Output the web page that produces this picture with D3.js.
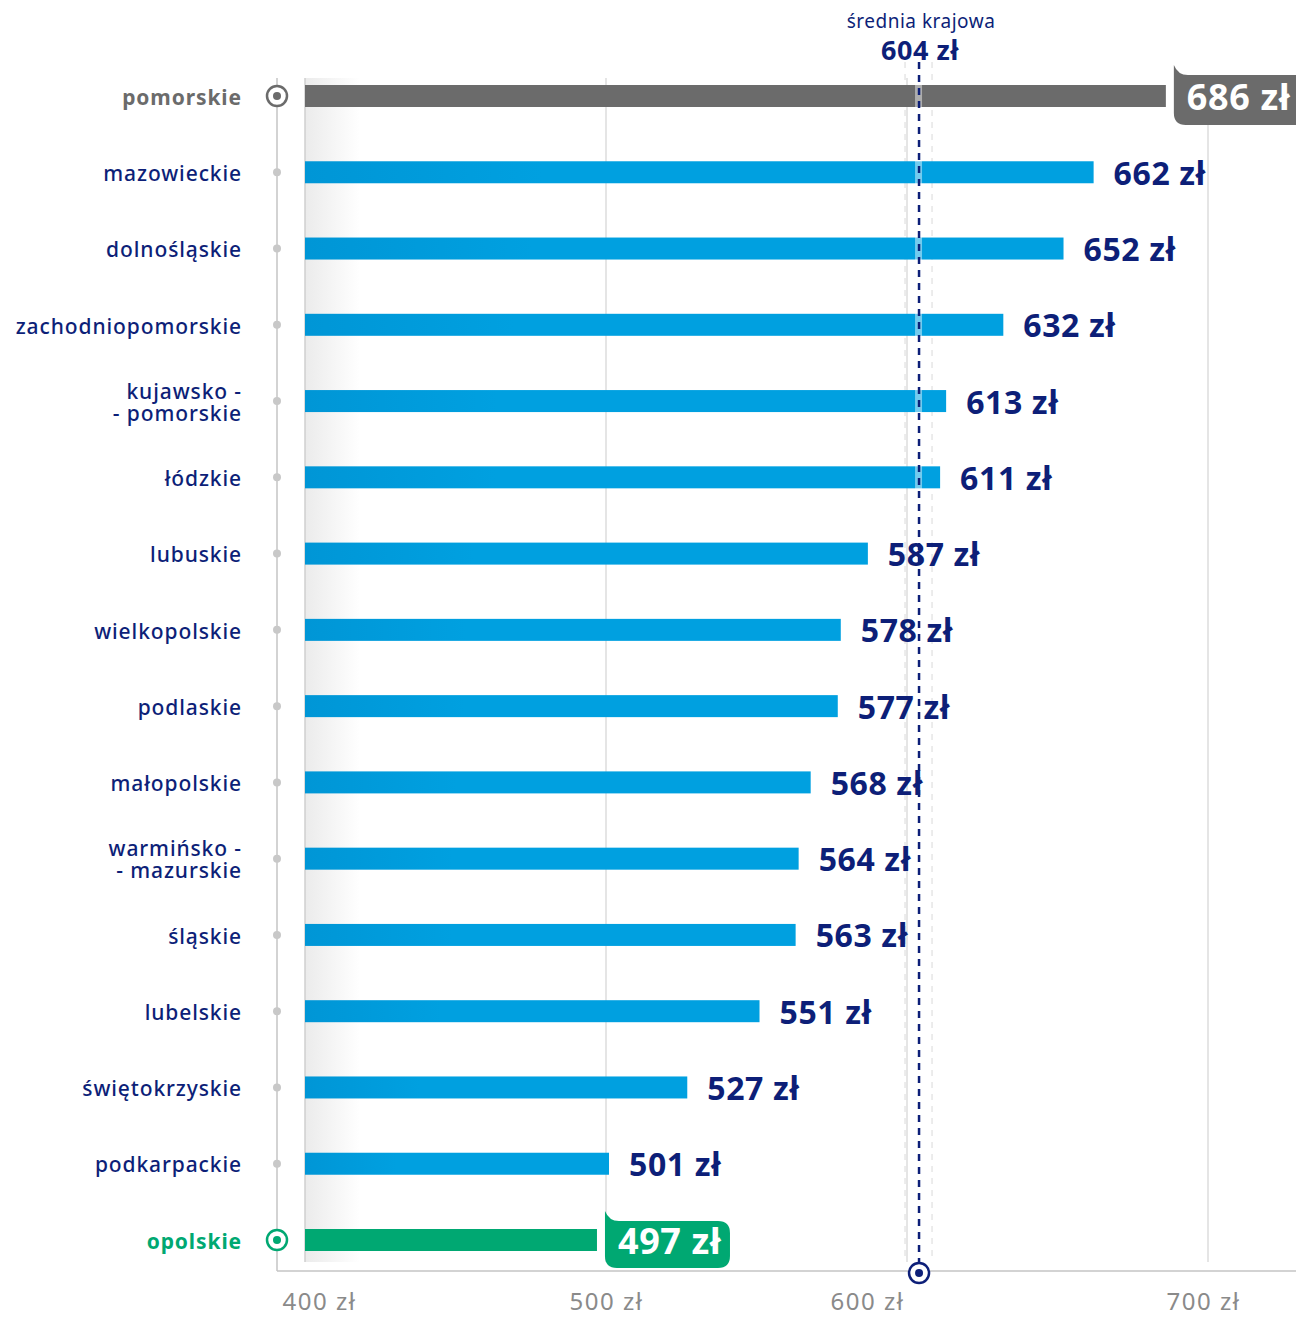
<!DOCTYPE html>
<html>
<head>
<meta charset="utf-8">
<script src="https://cdn.jsdelivr.net/npm/d3@7"></script>
<style>
  body { margin: 0; background: #fff; }
  svg { display: block; font-family: "Noto Sans", "Open Sans", sans-serif; }
</style>
</head>
<body>
<div id="chart"></div>
<script>
// dane
const regions = ['pomorskie', 'mazowieckie', 'dolnośląskie', 'zachodniopomorskie', 'kujawsko -\n- pomorskie',
    'łódzkie', 'lubuskie', 'wielkopolskie', 'podlaskie', 'małopolskie', 'warmińsko -\n- mazurskie',
    'śląskie', 'lubelskie', 'świętokrzyskie', 'podkarpackie', 'opolskie'];
const values = [686, 662, 652, 632, 613, 611, 587, 578, 577, 568, 564, 563, 551, 527, 501, 497];
const average = 604;
const averageLabel = 'średnia krajowa';
const xTicks = [400, 500, 600, 700];
const unit = ' zł';

const width = 1296;
const height = 1317;
const barH = 22;

const navy = '#0d1f78';
const blue = '#00a0e0';
const gray = '#6b6b6b';
const green = '#00a872';

const x = d3.scaleLinear()
    .domain([400, 700])
    .range([305, 1208]);

const y = d3.scalePoint()
    .domain(regions)
    .range([96, 1240]);

const svg = d3.select('#chart')
    .append('svg')
    .attr('width', width)
    .attr('height', height);

const defs = svg.append('defs');
const shade = defs.append('linearGradient').attr('id', 'shade');
shade.append('stop').attr('offset', '0%').attr('stop-color', '#ebebeb');
shade.append('stop').attr('offset', '100%').attr('stop-color', '#ffffff');

const barGrad = defs.append('linearGradient').attr('id', 'barGrad');
barGrad.append('stop').attr('offset', '0%').attr('stop-color', '#0096d6');
barGrad.append('stop').attr('offset', '30%').attr('stop-color', blue);

// cien po lewej
svg.append('rect')
    .attr('x', x(400))
    .attr('y', 78)
    .attr('width', 55)
    .attr('height', 1184)
    .attr('fill', 'url(#shade)');

// siatka
svg.append('g')
    .selectAll('line')
    .data(xTicks)
    .enter().append('line')
    .attr('x1', d => x(d))
    .attr('x2', d => x(d))
    .attr('y1', 78)
    .attr('y2', 1262)
    .attr('stroke', d => d === 400 ? '#cfcfcf' : '#dcdcdc')
    .attr('stroke-width', 1.5);

// jasne przerywane obok sredniej
[-14, 13].forEach(off => {
    svg.append('line')
        .attr('x1', x(average) + off)
        .attr('x2', x(average) + off)
        .attr('y1', 62)
        .attr('y2', 1262)
        .attr('stroke', '#e6e6e6')
        .attr('stroke-width', 1.5)
        .attr('stroke-dasharray', '6,6');
});

// os lewa + dolna
svg.append('line')
    .attr('x1', 277).attr('x2', 277)
    .attr('y1', 78).attr('y2', 1271)
    .attr('stroke', '#c4c4c4').attr('stroke-width', 1.5);

const xAxis = svg.append('g')
    .attr('transform', 'translate(0,1271)')
    .call(d3.axisBottom(x).tickValues(xTicks).tickSize(0).tickFormat(d => d + unit));
xAxis.select('.domain').attr('stroke', '#c4c4c4').attr('stroke-width', 1.5).attr('d', 'M277,0H1296');
const tickShift = { 400: 14, 500: 0, 600: -40, 700: -5 };
xAxis.selectAll('text')
    .attr('dx', d => tickShift[d])
    .attr('y', 39)
    .attr('dy', 0)
    .attr('fill', '#8a8a8a')
    .style('font-size', '24px')
    .style('letter-spacing', '1.5px')
    .style('font-family', '"Noto Sans", sans-serif');

const colorOf = (d, i) => i === 0 ? gray : (i === regions.length - 1 ? green : null);

// slupki
svg.append('g')
    .selectAll('rect')
    .data(values)
    .enter().append('rect')
    .attr('x', x(400))
    .attr('y', (d, i) => y(regions[i]) - barH / 2)
    .attr('width', d => x(d) - x(400))
    .attr('height', barH)
    .attr('fill', (d, i) => colorOf(d, i) || 'url(#barGrad)');

// jasny pasek pod linia sredniej
svg.append('rect')
    .attr('x', x(average) - 4)
    .attr('y', 62)
    .attr('width', 7)
    .attr('height', 1200)
    .attr('fill', '#ffffff')
    .attr('opacity', 0.45);

// linia sredniej
svg.append('line')
    .attr('x1', x(average)).attr('x2', x(average))
    .attr('y1', 62).attr('y2', 1262)
    .attr('stroke', navy)
    .attr('stroke-width', 2.5)
    .attr('stroke-dasharray', '7,6');

// etykiety wartosci (zwykle)
const mid = i => y(regions[i]);
svg.append('g')
    .selectAll('text')
    .data(values)
    .enter()
    .filter((d, i) => i > 0 && i < regions.length - 1)
    .append('text')
    .attr('x', d => x(d) + 20)
    .attr('y', d => mid(values.indexOf(d)) + 1)
    .attr('dy', '0.36em')
    .attr('fill', navy)
    .style('font-size', '32px')
    .style('font-weight', 700)
    .style('letter-spacing', '0.6px')
    .text(d => d + unit);

// znaczniki po lewej
regions.forEach((r, i) => {
    const c = colorOf(values[i], i);
    if (c) {
        svg.append('circle').attr('cx', 277).attr('cy', mid(i)).attr('r', 10)
            .attr('fill', '#fff').attr('stroke', c).attr('stroke-width', 2.5);
        svg.append('circle').attr('cx', 277).attr('cy', mid(i)).attr('r', 4).attr('fill', c);
    } else {
        svg.append('circle').attr('cx', 277).attr('cy', mid(i)).attr('r', 4).attr('fill', '#c8c8c8');
    }
});

// nazwy regionow
const labels = svg.append('g')
    .selectAll('text')
    .data(regions)
    .enter().append('text')
    .attr('text-anchor', 'end')
    .attr('fill', (d, i) => colorOf(values[i], i) || navy)
    .style('font-size', '21px')
    .style('letter-spacing', '0.9px')
    .style('font-weight', (d, i) => colorOf(values[i], i) ? 700 : 500);

labels.each(function(d, i) {
    const lines = d.split('\n');
    const t = d3.select(this);
    const y0 = mid(i) - (lines.length - 1) * 11 + 2;
    lines.forEach((l, k) => {
        t.append('tspan')
            .attr('x', 242)
            .attr('y', y0 + k * 22)
            .attr('dy', '0.32em')
            .text(l);
    });
});

// plakietki (max i min)
function badge(i, bx, by, w, h, fill) {
    const r = 12;
    const path = `M${bx},${by - 10} L${bx},${by + h - r} Q${bx},${by + h} ${bx + r},${by + h}
        L${bx + w - r},${by + h} Q${bx + w},${by + h} ${bx + w},${by + h - r}
        L${bx + w},${by + r} Q${bx + w},${by} ${bx + w - r},${by} L${bx + 14},${by} Q${bx + 4},${by} ${bx},${by - 10} Z`;
    svg.append('path').attr('d', path).attr('fill', fill);
    svg.append('text')
        .attr('x', bx + 13)
        .attr('y', mid(i) + 1)
        .attr('dy', '0.36em')
        .attr('fill', '#fff')
        .style('font-size', '36px')
        .style('font-weight', 700)
        .style('letter-spacing', '0.6px')
        .text(values[i] + unit);
}
badge(0, x(values[0]) + 8, mid(0) - 21, 140, 50, gray);
const last = regions.length - 1;
badge(last, x(values[last]) + 8, mid(last) - 19, 125, 47, green);

// srednia - opis
svg.append('text')
    .attr('x', x(average) + 2)
    .attr('y', 21)
    .attr('dy', '0.35em')
    .attr('text-anchor', 'middle')
    .attr('fill', navy)
    .style('font-size', '19px')
    .style('letter-spacing', '0.5px')
    .text(averageLabel);
svg.append('text')
    .attr('x', x(average) + 1)
    .attr('y', 50)
    .attr('dy', '0.36em')
    .attr('text-anchor', 'middle')
    .attr('fill', navy)
    .style('font-size', '27px')
    .style('font-weight', 700)
    .style('letter-spacing', '0.5px')
    .text(average + unit);

svg.append('circle').attr('cx', x(average)).attr('cy', 1273).attr('r', 10)
    .attr('fill', '#fff').attr('stroke', navy).attr('stroke-width', 2.5);
svg.append('circle').attr('cx', x(average)).attr('cy', 1273).attr('r', 4).attr('fill', navy);
</script>
</body>
</html>
